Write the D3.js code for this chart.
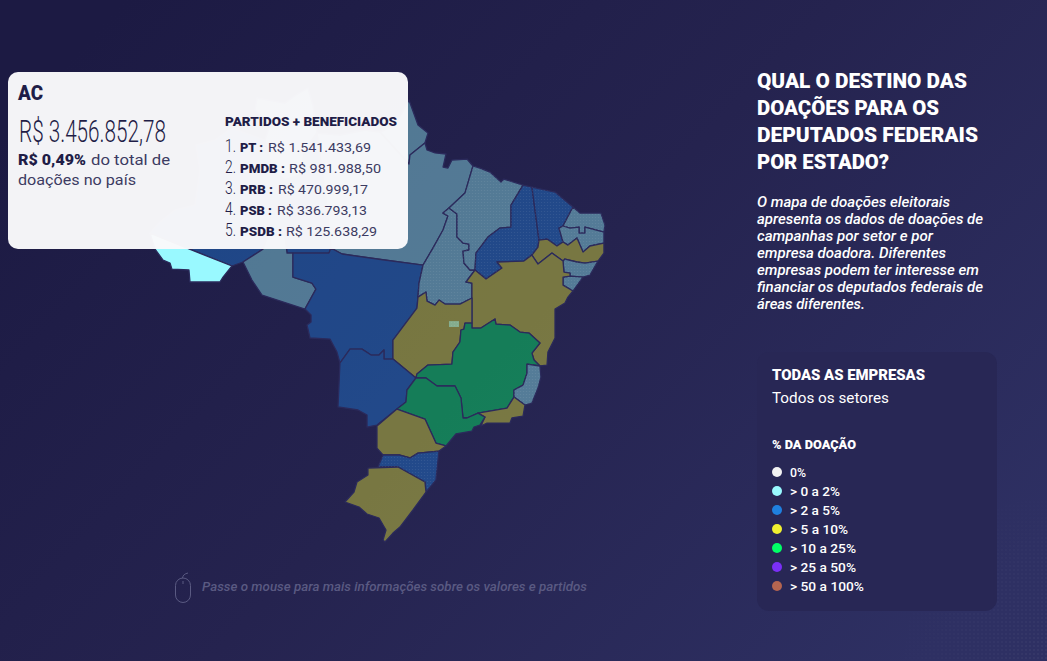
<!DOCTYPE html>
<html lang="pt-BR">
<head>
<meta charset="utf-8">
<title>Destino das doações</title>
<script src="https://cdn.jsdelivr.net/npm/d3@7"></script>
<style>
  html, body { margin: 0; padding: 0; background: #24234f; }
  svg { display: block; }
  text { font-family: Roboto, "Noto Sans", sans-serif; }
</style>
</head>
<body>
<svg id="map" width="1047" height="661"></svg>
<script>
// state outlines, [lon, lat]
const RR = [[-64.64,5.04],[-62.19,4.60],[-61.23,5.30],[-60.18,5.91],[-59.74,4.43],[-59.39,1.97],[-60.44,0.49],[-60.88,-1.70],[-62.19,-2.14],[-63.33,-1.26],[-63.94,1.36],[-63.50,2.68],[-64.81,3.99]];
const AP = [[-51.34,4.86],[-50.55,2.68],[-49.68,1.97],[-49.94,1.10],[-51.25,0.05],[-51.34,-0.74],[-53.88,2.06],[-52.56,2.68]];
const AM = [[-74.00,-6.78],[-73.13,-5.81],[-71.81,-4.76],[-70.06,-4.33],[-69.63,-1.26],[-69.98,0.93],[-68.31,1.36],[-66.83,2.41],[-65.69,1.97],[-63.94,1.36],[-63.33,-1.26],[-62.19,-2.14],[-60.88,-1.70],[-60.44,0.49],[-59.39,1.97],[-58.95,-1.26],[-58.60,-3.89],[-58.16,-8.09],[-58.34,-8.53],[-61.49,-8.53],[-62.01,-8.53],[-62.19,-6.95],[-63.68,-6.95],[-64.11,-8.18],[-65.86,-9.31],[-66.83,-9.66]];
const AC = [[-74.00,-6.78],[-66.83,-9.66],[-67.61,-10.63],[-67.88,-11.06],[-70.50,-11.06],[-70.59,-10.01],[-72.08,-9.93],[-72.25,-9.40],[-72.86,-9.14],[-73.56,-8.18]];
const RO = [[-65.86,-9.31],[-65.08,-10.89],[-64.20,-12.20],[-60.44,-13.43],[-59.48,-11.68],[-59.83,-11.15],[-61.49,-10.63],[-61.49,-8.53],[-62.01,-8.53],[-62.19,-6.95],[-63.68,-6.95],[-64.11,-8.18]];
const PA = [[-59.39,1.97],[-57.38,1.80],[-55.19,2.24],[-53.88,2.06],[-51.34,-0.74],[-51.25,0.05],[-49.94,1.10],[-49.76,0.49],[-49.06,0.23],[-48.10,0.14],[-48.36,-1.00],[-47.93,-1.09],[-47.58,-0.39],[-46.26,-0.30],[-45.74,-0.91],[-46.44,-3.28],[-47.84,-4.59],[-48.36,-5.03],[-47.93,-5.29],[-48.36,-6.51],[-49.24,-8.09],[-50.11,-9.58],[-57.20,-8.61],[-58.16,-8.09],[-58.60,-3.89],[-58.95,-1.26]];
const MT = [[-61.49,-8.53],[-58.34,-8.53],[-58.16,-8.09],[-57.20,-8.61],[-50.11,-9.58],[-50.46,-11.15],[-50.55,-12.38],[-50.64,-13.34],[-52.74,-16.14],[-52.74,-17.80],[-53.53,-17.80],[-53.53,-17.01],[-53.96,-17.45],[-54.66,-17.45],[-55.45,-16.93],[-56.50,-16.93],[-57.38,-18.15],[-57.64,-17.19],[-58.25,-16.05],[-60.00,-15.96],[-60.26,-14.83],[-59.91,-14.56],[-59.91,-13.95],[-60.44,-13.43],[-59.48,-11.68],[-59.83,-11.15],[-61.49,-10.63]];
const TO = [[-48.36,-5.03],[-47.84,-4.59],[-47.14,-5.11],[-47.14,-7.13],[-46.61,-7.65],[-46.09,-7.74],[-46.09,-8.26],[-46.61,-8.35],[-46.53,-9.40],[-46.00,-10.01],[-45.56,-10.01],[-46.35,-11.06],[-45.83,-11.15],[-45.83,-12.46],[-46.88,-12.99],[-48.19,-12.99],[-48.71,-12.64],[-49.06,-13.08],[-49.76,-12.73],[-49.85,-11.94],[-50.55,-12.38],[-50.46,-11.15],[-50.11,-9.58],[-49.24,-8.09],[-48.36,-6.51],[-47.93,-5.29]];
const MA = [[-45.74,-0.91],[-45.13,-1.09],[-44.25,-1.44],[-43.29,-2.31],[-43.03,-2.05],[-41.36,-2.58],[-42.41,-4.33],[-42.41,-6.25],[-43.38,-6.34],[-44.43,-7.13],[-45.48,-8.53],[-45.56,-10.01],[-46.00,-10.01],[-46.53,-9.40],[-46.61,-8.35],[-46.09,-8.26],[-46.09,-7.74],[-46.61,-7.65],[-47.14,-7.13],[-47.14,-5.11],[-47.84,-4.59],[-46.44,-3.28]];
const PI = [[-41.36,-2.58],[-40.58,-2.75],[-39.96,-7.39],[-40.05,-8.00],[-40.58,-8.70],[-41.28,-9.23],[-43.64,-9.31],[-43.20,-9.84],[-44.60,-10.80],[-45.56,-10.01],[-45.48,-8.53],[-44.43,-7.13],[-43.38,-6.34],[-42.41,-6.25],[-42.41,-4.33]];
const CE = [[-40.58,-2.75],[-38.56,-3.19],[-36.99,-4.50],[-37.86,-6.16],[-38.21,-6.34],[-37.86,-7.56],[-38.39,-7.91],[-39.26,-7.30],[-39.96,-7.39]];
const RN = [[-36.99,-4.50],[-36.38,-5.03],[-34.54,-5.03],[-34.19,-6.08],[-34.28,-6.69],[-35.94,-6.25],[-35.94,-6.78],[-36.46,-6.78],[-36.46,-6.25],[-37.25,-6.34],[-37.86,-6.16]];
const PB = [[-38.21,-6.34],[-37.86,-6.16],[-37.25,-6.34],[-36.46,-6.25],[-36.46,-6.78],[-35.94,-6.78],[-35.94,-6.25],[-34.28,-6.69],[-34.28,-7.65],[-35.50,-7.91],[-36.11,-8.44],[-36.64,-7.21],[-37.43,-7.83],[-37.86,-7.56]];
const PE = [[-37.86,-7.56],[-37.43,-7.83],[-36.64,-7.21],[-36.11,-8.44],[-35.50,-7.91],[-34.28,-7.65],[-34.28,-8.53],[-34.80,-9.23],[-35.94,-9.40],[-36.64,-9.31],[-37.69,-9.05],[-37.86,-9.23],[-38.83,-8.53],[-40.05,-9.49],[-40.58,-8.70],[-40.05,-8.00],[-39.96,-7.39],[-39.26,-7.30],[-38.39,-7.91]];
const AL = [[-37.69,-9.05],[-36.64,-9.31],[-35.94,-9.40],[-34.80,-9.23],[-35.50,-10.45],[-36.11,-10.63],[-37.25,-10.54],[-37.25,-10.28],[-37.78,-10.19],[-37.86,-9.23]];
const SE = [[-37.86,-10.63],[-37.25,-10.54],[-36.11,-10.63],[-36.99,-11.85],[-37.86,-11.33]];
const BA = [[-45.56,-10.01],[-44.60,-10.80],[-43.20,-9.84],[-43.64,-9.31],[-41.28,-9.23],[-40.58,-8.70],[-40.05,-9.49],[-38.83,-8.53],[-37.86,-9.23],[-37.78,-10.19],[-37.25,-10.28],[-37.25,-10.54],[-37.86,-10.63],[-37.86,-11.33],[-36.99,-11.85],[-37.43,-12.38],[-37.69,-12.90],[-38.56,-13.43],[-38.56,-15.96],[-39.18,-17.19],[-39.26,-18.33],[-39.88,-18.41],[-40.40,-17.89],[-40.58,-17.28],[-39.88,-16.40],[-40.84,-15.53],[-41.63,-15.44],[-42.50,-14.83],[-43.73,-14.74],[-43.81,-14.30],[-45.04,-15.09],[-45.83,-15.09],[-45.83,-11.15],[-46.35,-11.06]];
const GO = [[-50.55,-12.38],[-49.85,-11.94],[-49.76,-12.73],[-49.06,-13.08],[-48.71,-12.64],[-48.19,-12.99],[-46.88,-12.99],[-45.83,-12.46],[-45.83,-14.65],[-46.44,-14.65],[-46.53,-15.18],[-46.79,-15.26],[-46.88,-16.31],[-47.49,-17.19],[-47.58,-18.24],[-49.68,-18.33],[-50.64,-19.11],[-50.73,-19.46],[-52.74,-17.80],[-52.74,-16.14],[-50.64,-13.34]];
const DF = [[-47.84,-14.48],[-46.96,-14.48],[-46.96,-15.00],[-47.84,-15.00]];
const MS = [[-57.38,-18.15],[-56.50,-16.93],[-55.45,-16.93],[-54.66,-17.45],[-53.96,-17.45],[-53.53,-17.01],[-53.53,-17.80],[-52.74,-17.80],[-50.73,-19.46],[-51.51,-20.51],[-51.60,-21.56],[-52.39,-22.18],[-54.14,-23.58],[-55.01,-23.75],[-55.01,-22.70],[-55.80,-22.26],[-57.55,-21.99]];
const MG = [[-50.73,-19.46],[-50.64,-19.11],[-49.68,-18.33],[-47.58,-18.24],[-47.49,-17.19],[-46.88,-16.31],[-46.79,-15.26],[-46.53,-15.18],[-46.44,-14.65],[-45.83,-14.65],[-45.83,-15.09],[-45.04,-15.09],[-43.81,-14.30],[-43.73,-14.74],[-42.50,-14.83],[-41.63,-15.44],[-40.84,-15.53],[-39.88,-16.40],[-40.58,-17.28],[-40.40,-17.89],[-39.88,-18.41],[-41.01,-18.24],[-41.01,-19.03],[-41.36,-20.08],[-42.15,-20.51],[-42.15,-21.13],[-42.76,-22.09],[-45.30,-22.53],[-46.26,-22.96],[-46.61,-22.96],[-46.79,-21.21],[-47.31,-20.16],[-48.89,-20.16],[-49.85,-19.46]];
const ES = [[-41.01,-18.24],[-39.88,-18.41],[-39.79,-19.38],[-40.05,-20.34],[-40.58,-21.65],[-41.19,-21.83],[-42.15,-21.13],[-42.15,-20.51],[-41.36,-20.08],[-41.01,-19.03]];
const RJ = [[-42.15,-21.13],[-41.19,-21.83],[-41.36,-22.79],[-42.33,-22.96],[-42.50,-23.40],[-44.51,-23.40],[-45.04,-23.66],[-44.69,-22.88],[-45.30,-22.53],[-42.76,-22.09]];
const SP = [[-52.39,-22.18],[-51.60,-21.56],[-51.51,-20.51],[-50.73,-19.46],[-49.85,-19.46],[-48.89,-20.16],[-47.31,-20.16],[-46.79,-21.21],[-46.61,-22.96],[-46.26,-22.96],[-45.30,-22.53],[-44.69,-22.88],[-45.13,-23.58],[-45.65,-23.75],[-45.83,-24.10],[-47.23,-24.36],[-48.10,-25.41],[-48.98,-25.15],[-49.94,-23.05]];
const PR = [[-53.61,-26.20],[-54.14,-25.59],[-54.14,-23.66],[-52.39,-22.18],[-49.94,-23.05],[-48.98,-25.15],[-48.10,-25.41],[-48.71,-25.85],[-50.55,-26.03],[-51.25,-26.46],[-52.13,-26.20]];
const SC = [[-54.05,-27.25],[-53.61,-26.20],[-52.13,-26.20],[-51.25,-26.46],[-50.55,-26.03],[-48.71,-25.85],[-48.98,-28.39],[-49.85,-29.44],[-49.94,-28.56],[-52.30,-27.25]];
const RS = [[-54.93,-27.34],[-52.30,-27.25],[-49.94,-28.56],[-49.85,-29.44],[-50.99,-31.01],[-52.13,-32.50],[-52.74,-33.03],[-53.44,-33.81],[-53.61,-33.64],[-53.35,-32.76],[-53.96,-31.71],[-55.01,-31.36],[-55.71,-30.75],[-56.94,-30.31],[-56.15,-29.44],[-55.89,-28.56],[-54.93,-27.95]];

const stateCodes = ["RR","AP","AM","AC","RO","PA","MT","TO","MA","PI","CE","RN","PB","PE","AL","SE","BA","GO","MS","MG","ES","RJ","SP","PR","SC","RS","DF"];
const stateRings = [RR,AP,AM,AC,RO,PA,MT,TO,MA,PI,CE,RN,PB,PE,AL,SE,BA,GO,MS,MG,ES,RJ,SP,PR,SC,RS,DF];
// index into the legend bins
const stateBins = [1,1,2,1,1,1,2,1,1,2,2,1,1,3,1,1,3,3,2,4,1,3,4,3,2,3,1];
const dottedStates = ["TO","MA","PI","CE","RN","PB","AL","SE","ES","SC","DF"];
const hoveredState = "AC";

const legendLabels = ["0%","> 0 a 2%","> 2 a 5%","> 5 a 10%","> 10 a 25%","> 25 a 50%","> 50 a 100%"];
const legendColors = ["#f2f2f2","#99f9ff","#1f80e0","#f0f030","#00ff66","#7b2ff7","#b56550"];

const titleLines = ["QUAL O DESTINO DAS","DOAÇÕES PARA OS","DEPUTADOS FEDERAIS","POR ESTADO?"];
const titleWidths = [210,182,221,132];
const introLines = ["O mapa de doações eleitorais","apresenta os dados de doações de","campanhas por setor e por","empresa doadora. Diferentes","empresas podem ter interesse em","financiar os deputados federais de","áreas diferentes."];
const introWidths = [193,226,176,189,222,226,108];

const partyNames = ["PT :","PMDB :","PRB :","PSB :","PSDB :"];
const partyValues = ["R$ 1.541.433,69","R$ 981.988,50","R$ 470.999,17","R$ 336.793,13","R$ 125.638,29"];
const partyNameWidths = [23,45,33,32,42];
const partyValueX = [268,289,278,277,286];
const partyValueWidths = [103,92,90,90,91];

const ink = "#1f1d47";
const svg = d3.select("#map");
const defs = svg.append("defs");

let bg = defs.append("linearGradient").attr("id","bg").attr("x1","0").attr("y1","0.2").attr("x2","1").attr("y2","0.8");
bg.append("stop").attr("offset","0").attr("stop-color","#1c1a43");
bg.append("stop").attr("offset","0.5").attr("stop-color","#25234f");
bg.append("stop").attr("offset","1").attr("stop-color","#2e3063");

let dots = defs.append("pattern").attr("id","dots").attr("width",3).attr("height",3).attr("patternUnits","userSpaceOnUse");
dots.append("circle").attr("cx",1.5).attr("cy",1.5).attr("r",0.6).attr("fill","#fff").attr("fill-opacity",0.08);

let cornerDots = defs.append("pattern").attr("id","cornerDots").attr("width",4).attr("height",4).attr("patternUnits","userSpaceOnUse");
cornerDots.append("circle").attr("cx",2).attr("cy",2).attr("r",0.7).attr("fill","#fff").attr("fill-opacity",0.1);
let fade = defs.append("radialGradient").attr("id","fade").attr("cx","1").attr("cy","1").attr("r","1");
fade.append("stop").attr("offset","0").attr("stop-color","#fff");
fade.append("stop").attr("offset","1").attr("stop-color","#000");
defs.append("mask").attr("id","cornerMask").append("rect").attr("x",880).attr("y",470).attr("width",167).attr("height",191).attr("fill","url(#fade)");

svg.append("rect").attr("width",1047).attr("height",661).attr("fill","url(#bg)");
svg.append("rect").attr("x",880).attr("y",470).attr("width",167).attr("height",191).attr("fill","url(#cornerDots)").attr("mask","url(#cornerMask)");

// map
const features = stateCodes.map((code, i) => {
    let f = {
        type: "Feature",
        properties: { code: code, bin: stateBins[i] },
        geometry: { type: "Polygon", coordinates: [stateRings[i].concat([stateRings[i][0]])] }
    };
    // d3 wants the ring wound the spherical way round
    if (d3.geoArea(f) > 2 * Math.PI) f.geometry.coordinates[0].reverse();
    return f;
});

const projection = d3.geoEquirectangular().scale(654.8).translate([995.7, 155.6]).precision(0.1);
const path = d3.geoPath(projection);

const states = svg.append("g").attr("class","states");
states.selectAll("path.state")
    .data(features)
    .enter().append("path")
        .attr("class", d => "state " + d.properties.code)
        .attr("d", path)
        .attr("fill", d => legendColors[d.properties.bin])
        .attr("fill-opacity", d => d.properties.code === hoveredState ? 1 : 0.41)
        .attr("stroke", "#2b2a5b")
        .attr("stroke-width", d => d.properties.code === "DF" ? 0 : 1.3)
        .attr("stroke-linejoin", "round");
states.selectAll("path.dots")
    .data(features.filter(d => dottedStates.includes(d.properties.code)))
    .enter().append("path")
        .attr("class","dots")
        .attr("d", path)
        .attr("fill","url(#dots)");

function label(parent, str, x, y, size, opts) {
    opts = opts || {};
    let t = parent.append("text")
        .attr("x", x).attr("y", y)
        .attr("font-size", size)
        .attr("font-weight", opts.weight || 400)
        .attr("font-style", opts.italic ? "italic" : "normal")
        .attr("fill", opts.fill || "#fff")
        .text(str);
    if (opts.w) t.attr("textLength", opts.w).attr("lengthAdjust", "spacingAndGlyphs");
    return t;
}

// hover hint
const hint = svg.append("g");
hint.append("rect").attr("x",175.5).attr("y",578).attr("width",15).attr("height",24.5).attr("rx",7.5)
    .attr("fill","none").attr("stroke","#5a5a82").attr("stroke-width",1);
hint.append("path").attr("d","M182.5 578 Q183 574 188 573").attr("fill","none").attr("stroke","#5a5a82");
hint.append("line").attr("x1",183).attr("x2",183).attr("y1",581).attr("y2",584).attr("stroke","#5a5a82");
label(hint, "Passe o mouse para mais informações sobre os valores e partidos", 202, 591, 12.5, {italic:true, fill:"#5a5a82", w:385, weight:500});

// tooltip over the map
const tip = svg.append("g");
tip.append("rect").attr("x",8).attr("y",72).attr("width",400).attr("height",177).attr("rx",10)
    .attr("fill","#f9f9fb").attr("fill-opacity",0.975);
label(tip, "AC", 18, 100, 20, {weight:900, fill:ink, w:25});
// the big amount is condensed in the original, squeeze it with a transform
let amount = label(tip, "R$ 3.456.852,78", 0, 0, 31, {weight:300, fill:ink});
amount.attr("transform", "translate(19,142) scale(" + (147 / amount.node().getComputedTextLength()) + ",1)");
label(tip, "R$ 0,49%", 18, 165, 14, {weight:900, fill:ink, w:68});
label(tip, "do total de", 91, 165, 14, {fill:"#3c3b62", w:79});
label(tip, "doações no país", 18, 185, 14, {fill:"#3c3b62", w:118});
label(tip, "PARTIDOS + BENEFICIADOS", 225, 126, 12, {weight:900, fill:ink, w:172});
partyNames.forEach((name, i) => {
    let y = 151.7 + i * 21;
    label(tip, (i + 1) + ".", 225, y, 17.5, {weight:300, fill:ink, w:11});
    label(tip, name, 240, y, 12.5, {weight:900, fill:ink, w:partyNameWidths[i]});
    label(tip, partyValues[i], partyValueX[i], y, 12.5, {fill:"#3c3b62", w:partyValueWidths[i]});
});

// title block
titleLines.forEach((line, i) => {
    label(svg, line, 757, 87.5 + i * 27, 20.5, {weight:900, w:titleWidths[i]});
});
introLines.forEach((line, i) => {
    label(svg, line, 757, 207 + i * 17, 14.5, {italic:true, weight:500, w:introWidths[i]});
});

// legend panel
const panel = svg.append("g");
panel.append("rect").attr("x",757).attr("y",352).attr("width",240).attr("height",259).attr("rx",12).attr("fill","#282755");
label(panel, "TODAS AS EMPRESAS", 772, 380, 14, {weight:900, w:153});
label(panel, "Todos os setores", 772, 403, 14.5, {w:117});
label(panel, "% DA DOAÇÃO", 772, 449, 12.5, {weight:900, w:84});

const legendY = d3.scalePoint().domain(legendLabels).range([472, 586]);
const legendWidths = [16,50,50,58,66,66,74];
const legendRows = panel.selectAll("g.row").data(legendLabels).enter().append("g").attr("class","row");
legendRows.append("circle")
    .attr("cx",777)
    .attr("cy", d => legendY(d))
    .attr("r",5)
    .attr("fill", (d, i) => legendColors[i]);
legendRows.each(function(d, i) {
    label(d3.select(this), d, 790, legendY(d) + 4.7, 12.5, {weight:500, w:legendWidths[i]});
});
</script>
</body>
</html>
